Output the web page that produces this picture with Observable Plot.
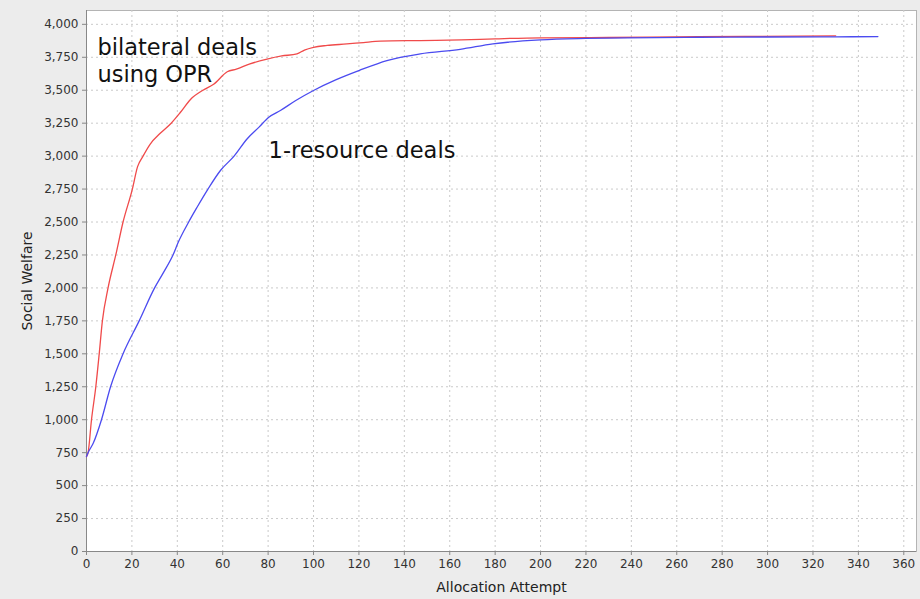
<!DOCTYPE html>
<html>
<head>
<meta charset="utf-8">
<script src="https://cdn.jsdelivr.net/npm/d3@7"></script>
<script src="https://cdn.jsdelivr.net/npm/@observablehq/plot@0.6"></script>
<style>
  html, body { margin: 0; padding: 0; background: #ececec; }
  #chart svg { display: block; }
</style>
</head>
<body>
<div id="chart"></div>
<script>
// Social welfare after each allocation attempt, two negotiation strategies.
const bilateralAttempt = [0, 0.7, 2.2, 4.1, 5.6, 7, 9.5, 12.9, 16.1, 20.2, 22.5, 24.9, 28, 32.6, 37.3, 41.4, 45.8, 51.3, 56, 62, 66, 72, 79.5, 86, 92.7, 96, 100, 106, 114.7, 122, 129.4, 147, 165, 180, 200, 230, 260, 290, 330];
const bilateralWelfare = [720, 750, 1000, 1250, 1500, 1750, 2000, 2250, 2500, 2750, 2920, 3000, 3090, 3175, 3250, 3333, 3430, 3500, 3545, 3640, 3660, 3700, 3736, 3760, 3776, 3805, 3826, 3840, 3851, 3862, 3872, 3877, 3882, 3890, 3898, 3900, 3905, 3908, 3913];

const oneResourceAttempt = [0, 1, 2.9, 6.6, 10.6, 16.1, 23.2, 30, 34, 38.1, 40.5, 45, 48.7, 53.5, 59, 65, 70.7, 76, 80.3, 85.4, 92, 100, 110, 120, 132.3, 147, 164.6, 179, 200, 220, 238, 270, 300, 330, 348.6];
const oneResourceWelfare = [720, 760, 819, 1000, 1250, 1500, 1750, 2000, 2120, 2250, 2350, 2500, 2612, 2750, 2891, 3000, 3130, 3220, 3295, 3346, 3420, 3498, 3580, 3649, 3725, 3776, 3810, 3852, 3882, 3893, 3898, 3902, 3904, 3905, 3907];

const xTicks = [0, 20, 40, 60, 80, 100, 120, 140, 160, 180, 200, 220, 240, 260, 280, 300, 320, 340, 360];
const yTicks = [0, 250, 500, 750, 1000, 1250, 1500, 1750, 2000, 2250, 2500, 2750, 3000, 3250, 3500, 3750, 4000];

// Series labels placed inside the plot area
const noteText = ["bilateral deals\nusing OPR", "1-resource deals"];
const noteAttempt = [4.8, 80.2];
const noteWelfare = [3912, 3133];

const bilateral = bilateralAttempt.map((x, i) => ({x, y: bilateralWelfare[i]}));
const oneResource = oneResourceAttempt.map((x, i) => ({x, y: oneResourceWelfare[i]}));
const notes = noteText.map((text, i) => ({text, x: noteAttempt[i], y: noteWelfare[i]}));

const gridStyle = {stroke: "#cacaca", strokeOpacity: 1, strokeDasharray: "2,3"};

const chart = Plot.plot({
  width: 920,
  height: 599,
  marginLeft: 86,
  marginTop: 10,
  marginRight: 4,
  marginBottom: 48,
  style: {background: "#ececec", fontFamily: "DejaVu Sans, sans-serif", fontSize: "12px", color: "#333"},
  x: {domain: [0, 365.6]},
  y: {domain: [0, 4105]},
  marks: [
    Plot.frame({fill: "white", stroke: "#b4b4b4"}),
    Plot.gridX(xTicks, gridStyle),
    Plot.gridY(yTicks, gridStyle),
    Plot.axisX({ticks: xTicks, tickSize: 4, tickPadding: 4, stroke: "#888",
      label: "Allocation Attempt", labelAnchor: "center", labelArrow: "none", labelOffset: 40}),
    Plot.axisY({ticks: yTicks, tickFormat: d3.format(","), tickSize: 4, tickPadding: 4, stroke: "#888",
      label: "Social Welfare", labelAnchor: "center", labelArrow: "none", labelOffset: 64}),
    Plot.ruleX([0], {stroke: "#888"}),
    Plot.ruleY([0], {stroke: "#888"}),
    Plot.line(bilateral, {x: "x", y: "y", stroke: "#f04a4a", strokeWidth: 1.3, curve: "monotone-x"}),
    Plot.line(oneResource, {x: "x", y: "y", stroke: "#4b4bf0", strokeWidth: 1.3, curve: "monotone-x"}),
    Plot.text(notes, {x: "x", y: "y", text: "text", textAnchor: "start", lineAnchor: "top",
      lineHeight: 1.2, fontSize: 22.5, fill: "#111"})
  ]
});

d3.select(chart).selectAll('[aria-label="x-axis label"] text, [aria-label="y-axis label"] text')
  .attr("font-size", 14).attr("fill", "#222");

document.getElementById("chart").appendChild(chart);
</script>
</body>
</html>
